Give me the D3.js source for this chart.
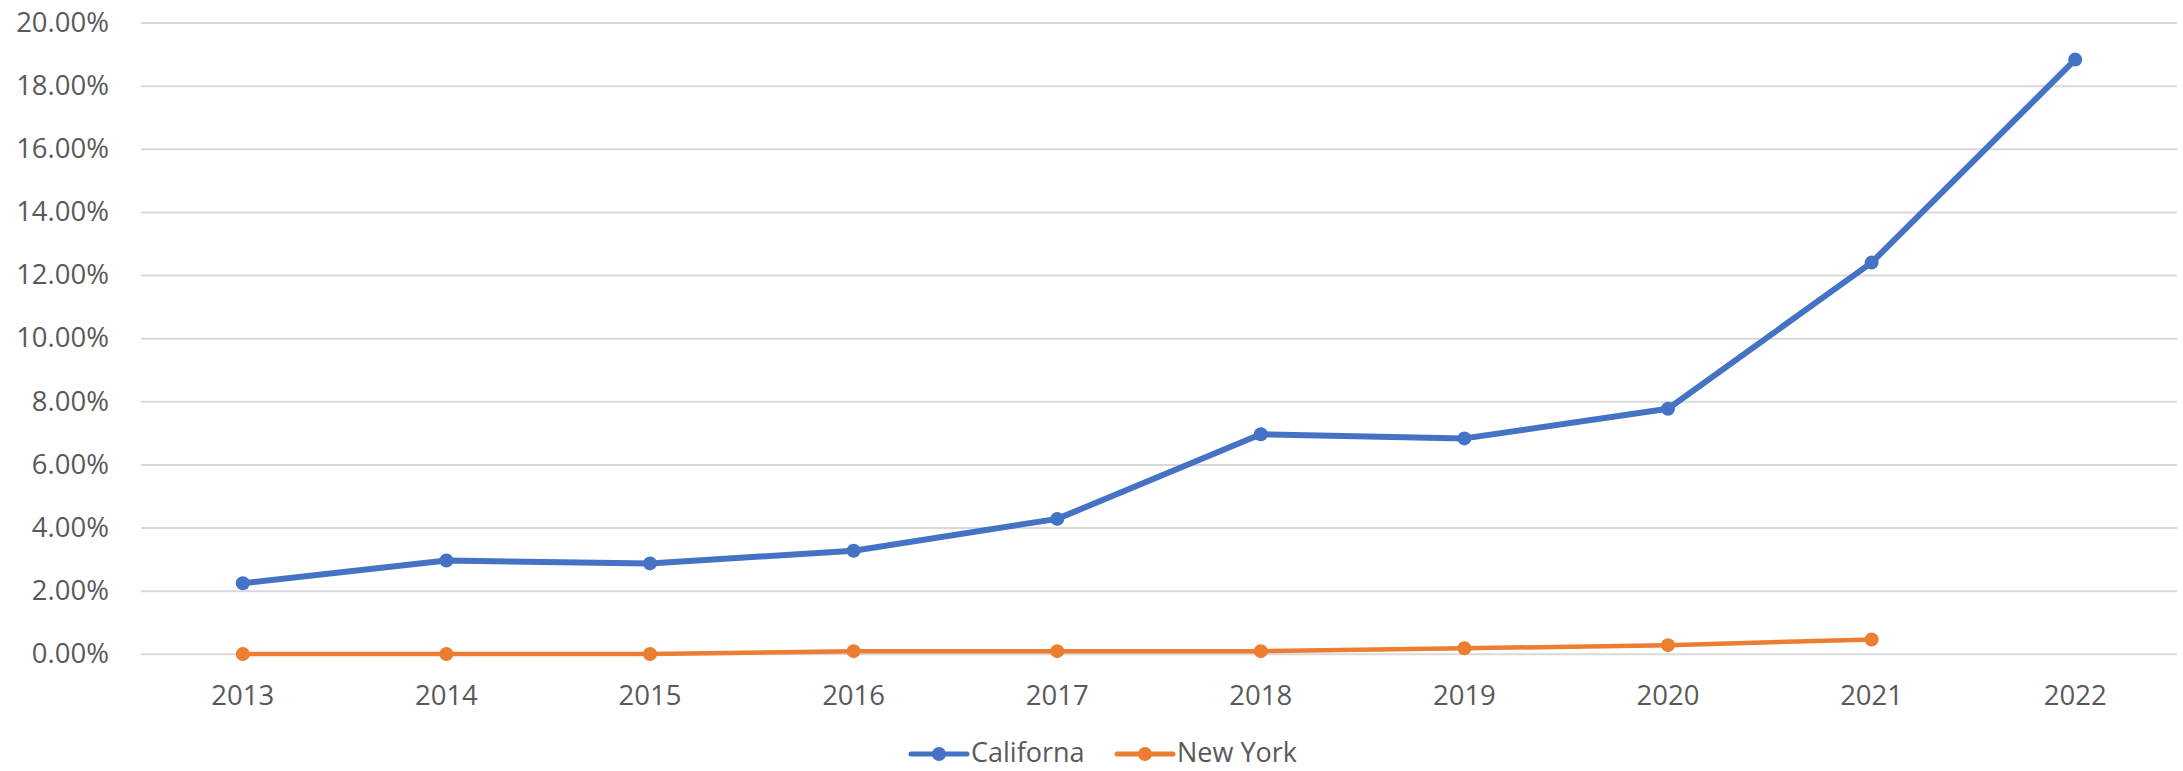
<!DOCTYPE html>
<html>
<head>
<meta charset="utf-8">
<script src="https://cdn.jsdelivr.net/npm/d3@7"></script>
<style>
  html, body { margin: 0; padding: 0; background: #fff; }
  #plot { width: 2183px; height: 771px; }
  text { font-family: "Open Sans", sans-serif; fill: #595959; }
</style>
</head>
<body>
<div id="plot"></div>
<script>
// chart data
const years = ["2013", "2014", "2015", "2016", "2017", "2018", "2019", "2020", "2021", "2022"];
const california = [0.0225, 0.0297, 0.0288, 0.0328, 0.0429, 0.0697, 0.0684, 0.0778, 0.1241, 0.1884];
const newYork = [0.0001, 0.0001, 0.0001, 0.0010, 0.0010, 0.0010, 0.0019, 0.0029, 0.0047];
const yTicks = [0, 0.02, 0.04, 0.06, 0.08, 0.10, 0.12, 0.14, 0.16, 0.18, 0.20];
const seriesNames = ["Californa", "New York"];

const width = 2183, height = 771;
const plotLeft = 141, plotRight = 2177, plotTop = 23, plotBottom = 654.3;

const svg = d3.select("#plot").append("svg")
    .attr("width", width)
    .attr("height", height);

const x = d3.scaleBand().domain(years).range([plotLeft, plotRight]).padding(0);
const y = d3.scaleLinear().domain([0, 0.20]).range([plotBottom, plotTop]);
const cx = d => x(d) + x.bandwidth() / 2;

// gridlines
svg.append("g")
    .selectAll("line")
    .data(yTicks)
    .enter().append("line")
    .attr("x1", plotLeft)
    .attr("x2", plotRight)
    .attr("y1", d => y(d))
    .attr("y2", d => y(d))
    .attr("stroke", "#d9d9d9")
    .attr("stroke-width", 2);

// y axis labels
svg.append("g")
    .selectAll("text")
    .data(yTicks)
    .enter().append("text")
    .attr("x", 109)
    .attr("y", d => y(d))
    .attr("dy", "0.32em")
    .attr("text-anchor", "end")
    .style("font-size", "27.5px")
    .text(d => d3.format(".2%")(d));

// x axis labels
svg.append("g")
    .selectAll("text")
    .data(years)
    .enter().append("text")
    .attr("x", d => cx(d))
    .attr("y", 705)
    .attr("text-anchor", "middle")
    .style("font-size", "27.5px")
    .text(d => d);

const series = [
    { name: seriesNames[0], values: california, color: "#4472C4", width: 6 },
    { name: seriesNames[1], values: newYork, color: "#ED7D31", width: 4.5 }
];

const line = d3.line()
    .x((d, i) => cx(years[i]))
    .y(d => y(d));

series.forEach(s => {
    svg.append("path")
        .datum(s.values)
        .attr("d", line)
        .attr("fill", "none")
        .attr("stroke", s.color)
        .attr("stroke-width", s.width)
        .attr("stroke-linejoin", "round");

    svg.append("g")
        .selectAll("circle")
        .data(s.values)
        .enter().append("circle")
        .attr("cx", (d, i) => cx(years[i]))
        .attr("cy", d => y(d))
        .attr("r", 7)
        .attr("fill", s.color);
});

// legend
const legendPos = [911, 1117];
series.forEach((s, i) => {
    const g = svg.append("g")
        .attr("transform", `translate(${legendPos[i]},754)`);
    g.append("line")
        .attr("x1", 0)
        .attr("x2", 56)
        .attr("stroke", s.color)
        .attr("stroke-width", 5)
        .attr("stroke-linecap", "round");
    g.append("circle")
        .attr("cx", 28)
        .attr("r", 7)
        .attr("fill", s.color);
    g.append("text")
        .attr("x", 60)
        .attr("y", 0)
        .attr("dy", "0.3em")
        .style("font-size", "27px")
        .text(s.name);
});
</script>
</body>
</html>
